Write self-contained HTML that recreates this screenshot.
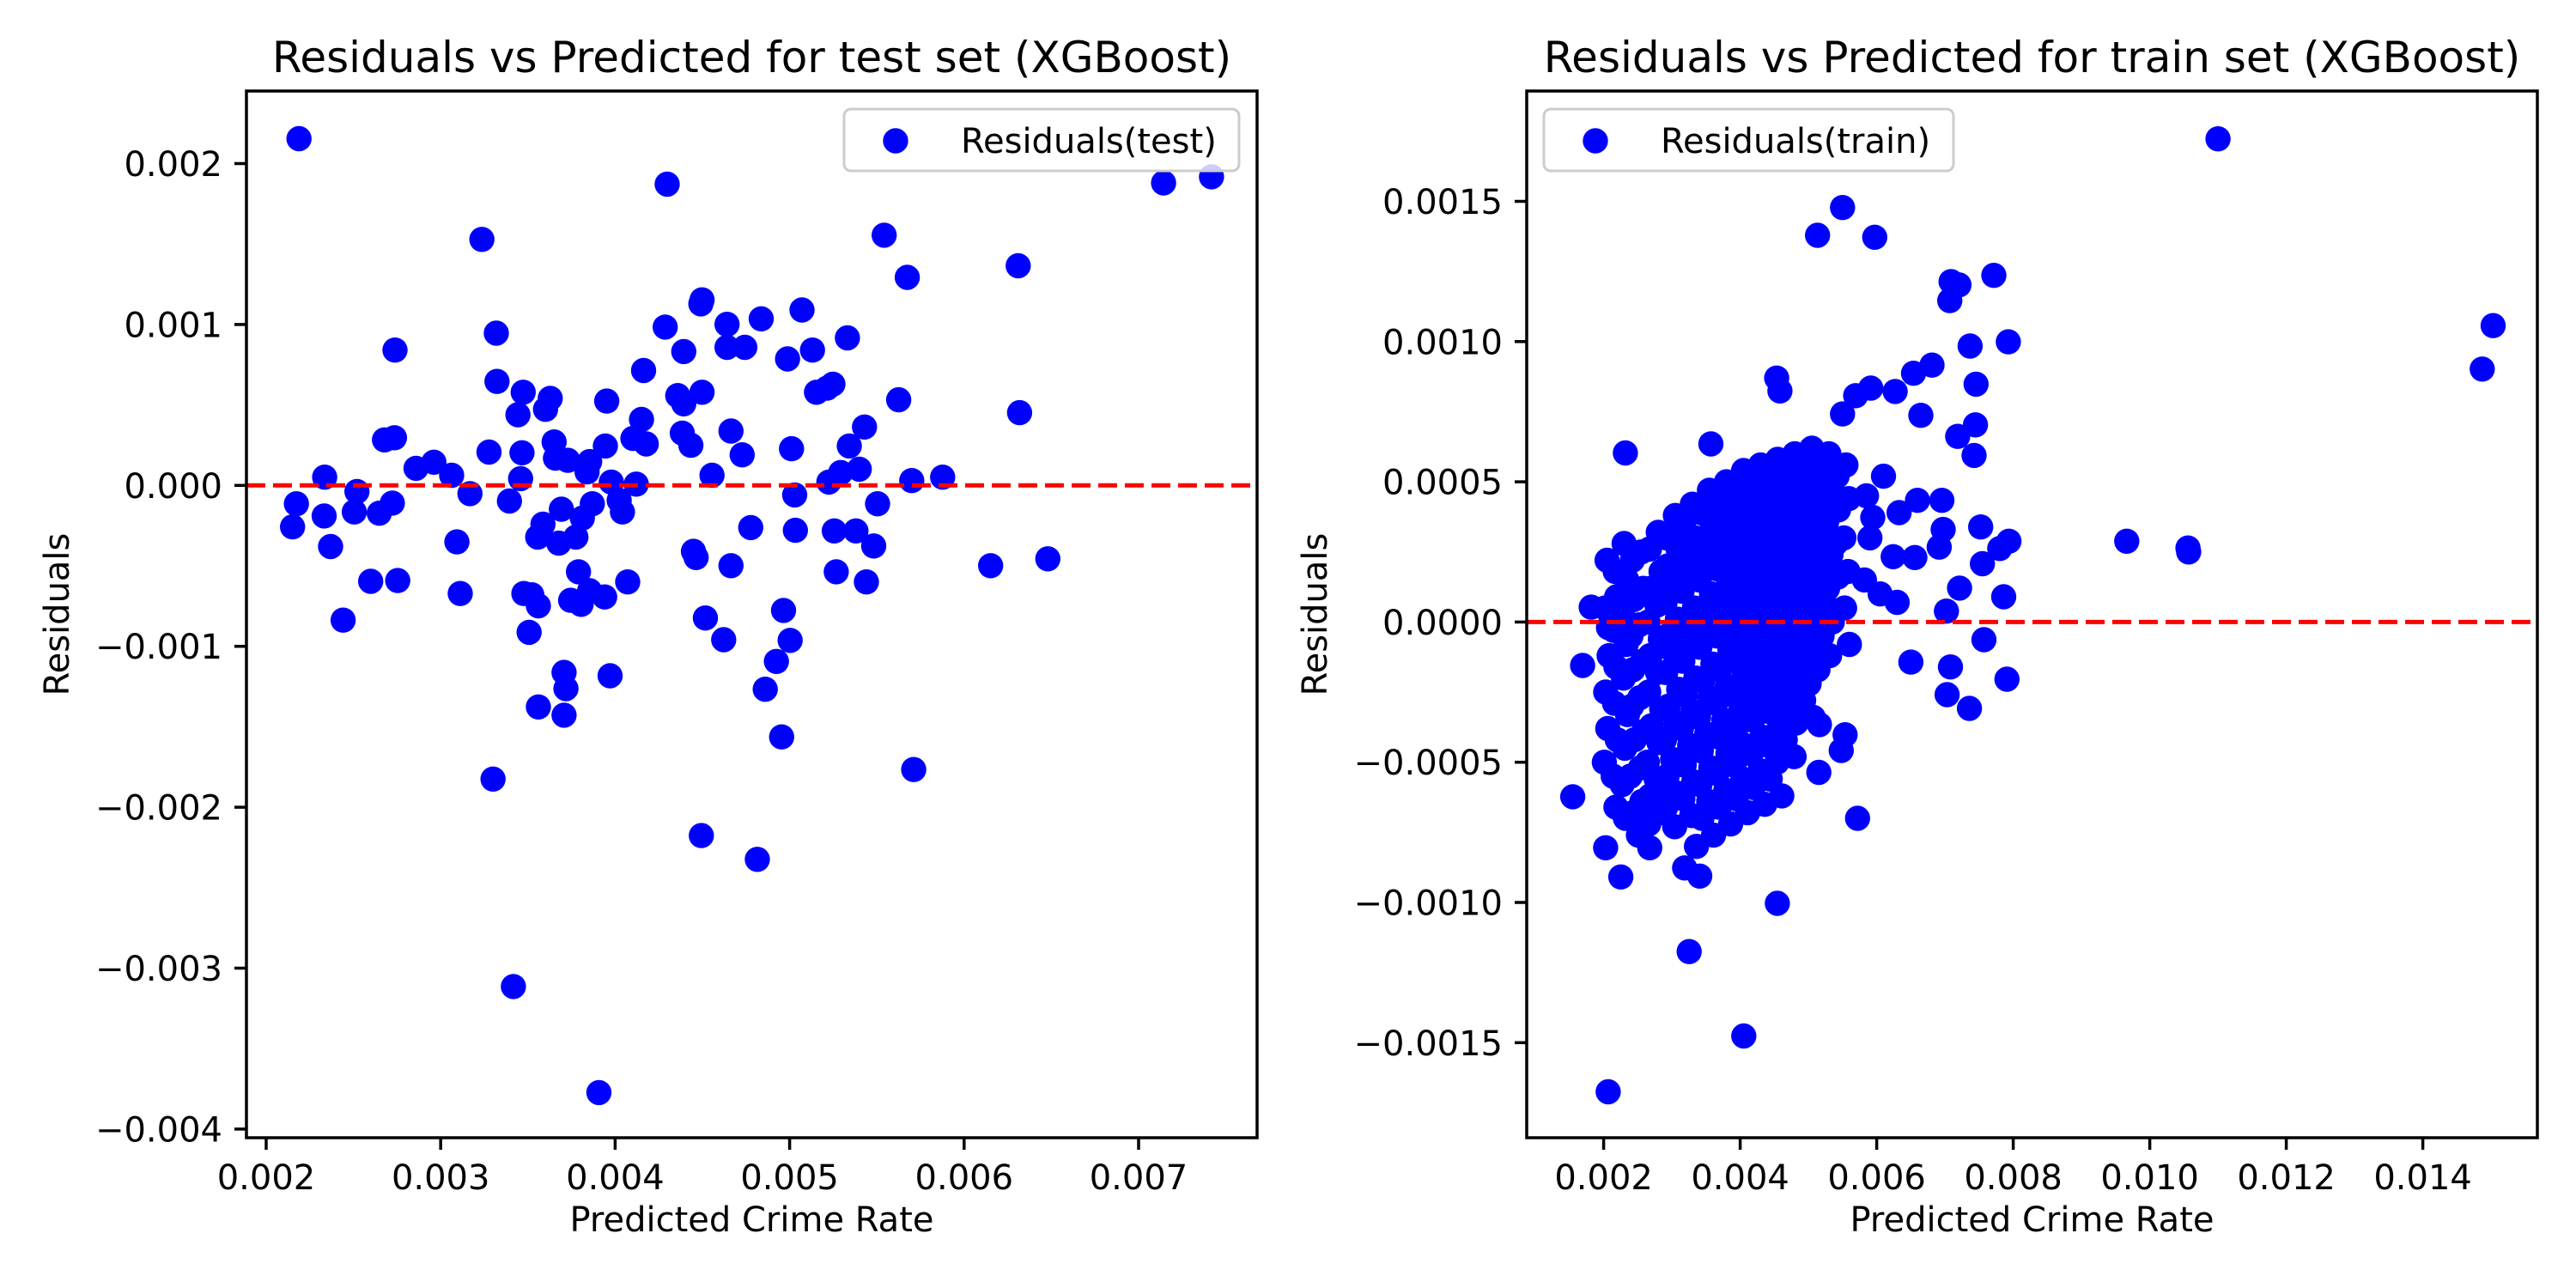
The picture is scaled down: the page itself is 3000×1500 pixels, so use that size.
<!DOCTYPE html>
<html><head><meta charset="utf-8">
<style>
html,body{margin:0;padding:0;background:#fff;}
svg{display:block;font-family:"DejaVu Sans","Liberation Sans",sans-serif;}
</style></head>
<body>
<svg id="fig" width="3000" height="1500" viewBox="0 0 3000 1500" xmlns="http://www.w3.org/2000/svg">
<rect width="3000" height="1500" fill="#fff"/>
<g id="left"></g>
<g id="right"></g>
</svg>
<script>
// values in units of 1e-3
const testX = [2.188,4.298,7.143,7.418,3.236,5.542,6.310,5.674,4.498,4.491,5.071,4.837,4.641,4.287,3.319,5.331,2.738,4.393,4.641,4.743,5.131,4.988,4.163,3.323,5.248,5.154,5.214,3.473,3.628,3.601,4.359,4.498,4.393,3.952,5.625,3.443,6.318,4.151,5.429,2.678,2.735,3.650,4.385,4.434,4.664,4.102,4.178,3.944,5.011,5.342,3.466,3.277,4.728,3.658,3.729,3.854,3.839,5.399,5.293,2.859,2.961,3.063,2.335,3.458,4.555,5.700,5.877,5.225,3.978,4.121,2.520,3.168,5.029,2.173,2.723,3.394,4.023,3.869,5.504,2.332,2.505,2.648,4.042,3.692,3.812,3.586,2.151,3.556,3.677,3.775,4.777,5.033,5.256,5.380,2.369,3.093,5.482,4.449,4.464,4.664,6.152,6.480,3.790,5.267,2.599,2.754,4.072,5.440,3.112,3.477,3.522,3.560,3.745,3.805,3.854,3.940,2.441,4.517,4.965,3.507,4.622,5.003,4.924,3.707,3.718,3.971,4.860,3.560,3.707,4.954,3.300,5.711,4.494,4.815,3.417,3.907];
const testY = [2.155,1.872,1.880,1.918,1.529,1.555,1.365,1.293,1.153,1.128,1.090,1.035,1.001,0.984,0.946,0.917,0.841,0.832,0.858,0.858,0.841,0.786,0.714,0.646,0.629,0.579,0.604,0.579,0.541,0.473,0.558,0.579,0.507,0.524,0.532,0.439,0.452,0.410,0.363,0.283,0.296,0.270,0.325,0.249,0.338,0.292,0.258,0.245,0.228,0.245,0.203,0.207,0.190,0.169,0.156,0.148,0.084,0.101,0.080,0.106,0.144,0.063,0.051,0.042,0.063,0.030,0.051,0.021,0.021,0.008,-0.038,-0.051,-0.059,-0.114,-0.110,-0.097,-0.093,-0.114,-0.114,-0.190,-0.165,-0.173,-0.165,-0.148,-0.203,-0.241,-0.258,-0.321,-0.359,-0.321,-0.262,-0.279,-0.283,-0.283,-0.380,-0.351,-0.376,-0.410,-0.448,-0.499,-0.499,-0.456,-0.537,-0.537,-0.596,-0.591,-0.600,-0.600,-0.672,-0.672,-0.680,-0.748,-0.714,-0.739,-0.655,-0.693,-0.837,-0.824,-0.777,-0.913,-0.959,-0.963,-1.094,-1.162,-1.263,-1.183,-1.267,-1.377,-1.428,-1.563,-1.825,-1.766,-2.176,-2.324,-3.114,-3.773];

const trainX = [11.00,5.499,5.133,5.971,7.716,7.089,7.205,7.070,7.369,7.928,15.03,14.87,7.455,6.810,6.540,6.270,5.913,5.692,4.535,4.583,6.646,5.499,7.446,7.186,7.427,2.318,3.571,9.663,10.57,10.56,7.523,7.937,7.802,7.549,7.214,7.860,7.022,6.299,7.571,7.908,7.359,7.080,7.031,6.501,1.817,1.547,1.692,2.029,2.251,2.675,3.186,3.407,4.545,3.253,4.053,2.067,5.720,5.152,5.480,5.537,5.161,6.598,6.955,6.974,6.916,6.559,6.241,6.328,5.942,
2.05,2.02,2.08,2.03,2.06,2.01,2.07,
2.30,2.34,2.28,2.33,2.29,2.35,2.31,2.27,2.32,
2.55,2.58,2.52,2.57,2.53,2.59,2.54,2.56,2.51,
2.80,2.84,2.78,2.83,2.79,2.85,2.81,2.77,2.82,2.86,
3.05,3.09,3.02,3.08,3.03,3.10,3.06,3.01,3.07,3.04,
3.30,3.34,3.27,3.33,3.28,3.35,3.31,3.26,3.32,3.29,3.36,
3.55,3.59,3.52,3.58,3.53,3.60,3.56,3.51,3.57,3.54,3.61,
3.80,3.84,3.77,3.83,3.78,3.85,3.81,3.76,3.82,3.79,3.86,
4.05,4.09,4.02,4.08,4.03,4.10,4.06,4.01,4.07,4.04,4.11,
4.30,4.34,4.27,4.33,4.28,4.35,4.31,4.26,4.32,4.29,4.36,
4.55,4.59,4.52,4.58,4.53,4.60,4.56,4.51,4.57,4.54,4.61,
4.80,4.84,4.77,4.83,4.78,4.85,4.81,4.76,4.82,4.79,
5.05,5.09,5.02,5.08,5.03,5.10,5.06,5.01,5.07,
5.30,5.34,5.27,5.33,5.28,5.35,5.31,
5.55,5.59,5.52,5.58,5.53,5.60,
5.85,5.90,5.82,6.10,6.05,
2.17,2.19,2.15,2.18,2.16,2.20,2.14,2.18,
2.42,2.44,2.40,2.43,2.41,2.45,2.39,2.43,
2.67,2.69,2.65,2.68,2.66,2.70,2.64,2.68,2.66,
2.92,2.94,2.90,2.93,2.91,2.95,2.89,2.93,2.91,
3.17,3.19,3.15,3.18,3.16,3.20,3.14,3.18,3.16,
3.42,3.44,3.40,3.43,3.41,3.45,3.39,3.43,3.41,3.44,
3.67,3.69,3.65,3.68,3.66,3.70,3.64,3.68,3.66,3.69,
3.92,3.94,3.90,3.93,3.91,3.95,3.89,3.93,3.91,3.94,
4.17,4.19,4.15,4.18,4.16,4.20,4.14,4.18,4.16,4.19,
4.42,4.44,4.40,4.43,4.41,4.45,4.39,4.43,4.41,4.44,
4.67,4.69,4.65,4.68,4.66,4.70,4.64,4.68,4.66,
4.92,4.94,4.90,4.93,4.91,4.95,4.89,4.93,
5.17,5.19,5.15,5.18,5.16,5.20,5.14,
5.42,5.44,5.40,5.43,5.41];
const trainY = [1.723,1.478,1.379,1.372,1.236,1.214,1.202,1.146,0.984,0.999,1.057,0.902,0.848,0.916,0.887,0.822,0.834,0.807,0.870,0.824,0.737,0.742,0.703,0.662,0.594,0.603,0.635,0.288,0.250,0.264,0.339,0.288,0.262,0.208,0.121,0.090,0.039,0.070,-0.063,-0.204,-0.308,-0.160,-0.259,-0.143,0.053,-0.623,-0.155,-0.805,-0.909,-0.805,-0.877,-0.906,-1.003,-1.175,-1.476,-1.675,-0.700,-0.536,-0.458,-0.402,-0.366,0.434,0.434,0.330,0.267,0.230,0.233,0.390,0.373,
0.22,0.05,-0.12,-0.25,-0.38,-0.50,-0.02,
0.28,0.15,0.02,-0.08,-0.20,-0.33,-0.45,-0.58,-0.70,
0.25,0.12,-0.01,-0.14,-0.27,-0.39,-0.52,-0.64,-0.76,
0.32,0.18,0.06,-0.06,-0.18,-0.31,-0.43,-0.56,-0.68,-0.60,
0.38,0.26,0.13,0.01,-0.11,-0.24,-0.36,-0.49,-0.61,-0.73,
0.42,0.30,0.18,0.05,-0.07,-0.20,-0.32,-0.44,-0.57,-0.69,-0.80,
0.47,0.35,0.22,0.10,-0.03,-0.15,-0.27,-0.40,-0.52,-0.64,-0.76,
0.50,0.38,0.26,0.14,0.02,-0.10,-0.23,-0.35,-0.47,-0.60,-0.72,
0.54,0.42,0.30,0.17,0.05,-0.07,-0.19,-0.31,-0.44,-0.56,-0.68,
0.56,0.44,0.32,0.20,0.08,-0.04,-0.16,-0.28,-0.41,-0.53,-0.65,
0.58,0.46,0.34,0.22,0.10,-0.02,-0.14,-0.26,-0.38,-0.50,-0.62,
0.60,0.48,0.36,0.24,0.12,0.00,-0.12,-0.24,-0.36,-0.48,
0.62,0.50,0.38,0.26,0.14,0.02,-0.10,-0.22,-0.34,
0.60,0.48,0.36,0.24,0.12,0.00,-0.12,
0.56,0.44,0.30,0.18,0.05,-0.08,
0.45,0.30,0.15,0.52,0.10,
0.18,0.09,-0.03,-0.16,-0.29,-0.42,-0.55,-0.66,
0.22,0.08,-0.05,-0.17,-0.30,-0.42,-0.55,-0.68,
0.26,0.12,0.00,-0.12,-0.25,-0.37,-0.50,-0.62,-0.72,
0.30,0.20,0.07,-0.05,-0.18,-0.30,-0.42,-0.55,-0.66,
0.34,0.23,0.11,-0.01,-0.14,-0.26,-0.38,-0.51,-0.63,
0.39,0.27,0.15,0.03,-0.09,-0.21,-0.34,-0.46,-0.58,-0.70,
0.43,0.31,0.19,0.07,-0.05,-0.17,-0.29,-0.41,-0.54,-0.66,
0.46,0.34,0.22,0.10,-0.02,-0.14,-0.26,-0.39,-0.51,-0.63,
0.49,0.37,0.25,0.13,0.01,-0.11,-0.23,-0.35,-0.47,-0.59,
0.52,0.40,0.28,0.16,0.04,-0.08,-0.20,-0.32,-0.44,-0.56,
0.54,0.42,0.30,0.18,0.06,-0.06,-0.18,-0.30,-0.42,
0.56,0.44,0.32,0.20,0.08,-0.04,-0.16,-0.28,
0.55,0.43,0.31,0.19,0.07,-0.05,-0.17,
0.52,0.40,0.28,0.16,0.04];

const leftXTicks = [2,3,4,5,6,7];
const leftXLabels = ["0.002","0.003","0.004","0.005","0.006","0.007"];
const leftYTicks = [2,1,0,-1,-2,-3,-4];
const leftYLabels = ["0.002","0.001","0.000","\u22120.001","\u22120.002","\u22120.003","\u22120.004"];
const rightXTicks = [2,4,6,8,10,12,14];
const rightXLabels = ["0.002","0.004","0.006","0.008","0.010","0.012","0.014"];
const rightYTicks = [1.5,1.0,0.5,0,-0.5,-1.0,-1.5];
const rightYLabels = ["0.0015","0.0010","0.0005","0.0000","\u22120.0005","\u22120.0010","\u22120.0015"];

const NS = "http://www.w3.org/2000/svg";
function mk(parent, tag, attrs, text){
  const e = document.createElementNS(NS, tag);
  for (const k in attrs) e.setAttribute(k, attrs[k]);
  if (text !== undefined) e.textContent = text;
  parent.appendChild(e); return e;
}

function drawPanel(g, cfg){
  const {L,R,T,B,xs,ys} = cfg;
  const pts = mk(g,'g',{});
  
  
  const n = Math.min(cfg.xv.length, cfg.yv.length);
  for (let i=0;i<n;i++){
    const c = mk(pts,'circle',{cx:xs(cfg.xv[i]).toFixed(1),cy:ys(cfg.yv[i]).toFixed(1),r:14.7,fill:'#0000ff'});
    
    
  }
  const zl = mk(g,'line',{x1:L,x2:R,y1:ys(0),y2:ys(0),stroke:'#ff0000','stroke-width':5,'stroke-dasharray':'22 9'});
  
  
  cfg.xt.forEach((t,i)=>{
    const x = xs(t);
    mk(g,'line',{x1:x,x2:x,y1:B,y2:B+14,stroke:'#000','stroke-width':3.5});
    const tx = mk(g,'text',{x:x,y:1385,'text-anchor':'middle','font-size':40,fill:'#000'},cfg.xl[i]);
    
    
  });
  cfg.yt.forEach((t,i)=>{
    const y = ys(t);
    mk(g,'line',{x1:L-14,x2:L,y1:y,y2:y,stroke:'#000','stroke-width':3.5});
    const tx = mk(g,'text',{x:L-28,y:y+14.5,'text-anchor':'end','font-size':40,fill:'#000'},cfg.yl[i]);
    
    
  });
  const fr = mk(g,'rect',{x:L,y:T,width:R-L,height:B-T,fill:'none',stroke:'#000','stroke-width':3.5});
  
  
  const ti = mk(g,'text',{x:(L+R)/2,y:84,'text-anchor':'middle','font-size':50,fill:'#000'},cfg.title);
  
  
  const xl = mk(g,'text',{x:(L+R)/2,y:1434,'text-anchor':'middle','font-size':40,fill:'#000'},'Predicted Crime Rate');
  
  
  const yx = cfg.ylabX, yy=(T+B)/2;
  const yl = mk(g,'text',{x:yx,y:yy,'text-anchor':'middle','font-size':40,fill:'#000',transform:`rotate(-90 ${yx} ${yy})`},'Residuals');
  
  
  const lg = mk(g,'g',{});
  
  
  const lb = cfg.leg;
  mk(lg,'rect',{x:lb.x,y:127,width:lb.w,height:72,rx:8,fill:'#fff','fill-opacity':0.8,stroke:'#cccccc','stroke-width':3});
  const lm = mk(lg,'circle',{cx:lb.x+60,cy:164,r:14.7,fill:'#0000ff'});
  
  
  const lt = mk(lg,'text',{x:lb.x+136,y:178,'font-size':40,fill:'#000'},cfg.legText);
  
  
}

drawPanel(document.getElementById('left'), {
  name:'test', L:287,R:1464,T:106,B:1325,
  xs:v=>310+(v-2)*203.2, ys:v=>565.3-v*187.4,
  xv:testX, yv:testY, xt:leftXTicks, xl:leftXLabels, yt:leftYTicks, yl:leftYLabels,
  title:'Residuals vs Predicted for test set (XGBoost)', ylabX:80,
  leg:{x:983,w:460}, legText:'Residuals(test)'
});
drawPanel(document.getElementById('right'), {
  name:'train', L:1778,R:2955,T:106,B:1325,
  xs:v=>1867.6+(v-2)*79.5, ys:v=>724.4-v*326.6,
  xv:trainX, yv:trainY, xt:rightXTicks, xl:rightXLabels, yt:rightYTicks, yl:rightYLabels,
  title:'Residuals vs Predicted for train set (XGBoost)', ylabX:1545,
  leg:{x:1798,w:477}, legText:'Residuals(train)'
});
</script>
</body></html>
